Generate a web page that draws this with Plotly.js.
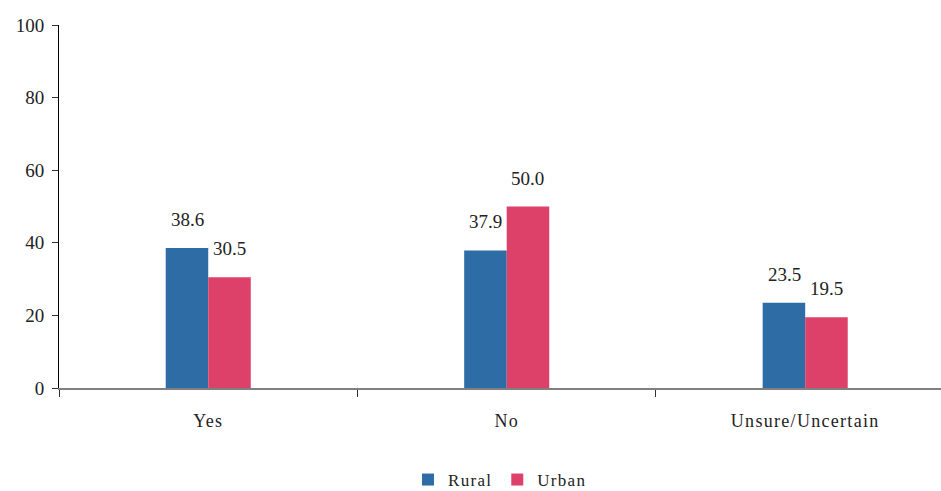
<!DOCTYPE html>
<html>
<head>
<meta charset="utf-8">
<script src="https://cdn.plot.ly/plotly-3.0.1.min.js"></script>
<style>
  html, body { margin: 0; padding: 0; background: #fff; overflow: hidden; }
  #chart { width: 941px; height: 510px; }
  .legendtext, .xtick text { letter-spacing: 1.3px; }
</style>
</head>
<body>
<div id="chart"></div>
<script>
const categories = ["Yes", "No", "Unsure/Uncertain"];
const seriesNames = ["Rural", "Urban"];
const ruralValues = [38.6, 37.9, 23.5];
const urbanValues = [30.5, 50.0, 19.5];
const yTickVals = [0, 20, 40, 60, 80, 100];

const colors = ["#2E6CA5", "#DD4169"];
const fontFam = "'Liberation Serif', serif";

const traces = [
  { type: "bar", name: seriesNames[0], x: categories, y: ruralValues, marker: { color: colors[0] }, hoverinfo: "none" },
  { type: "bar", name: seriesNames[1], x: categories, y: urbanValues, marker: { color: colors[1] }, hoverinfo: "none" }
];

const annotations = [];
[ruralValues, urbanValues].forEach((vals, si) => {
  vals.forEach((v, i) => {
    annotations.push({
      x: categories[i], y: v, xref: "x", yref: "y",
      text: v.toFixed(1), showarrow: false,
      xanchor: "center", yanchor: "bottom",
      xshift: si === 0 ? -21 : 21, yshift: 16,
      font: { family: fontFam, size: 19, color: "#222" }
    });
  });
});

const layout = {
  width: 941, height: 510,
  margin: { l: 59, r: 0, t: 25, b: 122 },
  paper_bgcolor: "#fff", plot_bgcolor: "#fff",
  barmode: "group", bargap: 0.715, bargroupgap: 0,
  font: { family: fontFam, size: 18, color: "#222" },
  xaxis: {
    type: "category", range: [-0.5, 2.455],
    showline: true, linecolor: "#808080", linewidth: 2,
    ticks: "outside", tickson: "boundaries", ticklen: 7, tickcolor: "#333", tickwidth: 1,
    ticklabelstandoff: 15,
    showgrid: false, zeroline: false,
    tickfont: { family: fontFam, size: 18, color: "#222" }
  },
  yaxis: {
    range: [0, 100], tickvals: yTickVals,
    showline: true, linecolor: "#000", linewidth: 1,
    ticks: "outside", ticklen: 6, tickcolor: "#333",
    ticklabelstandoff: 4,
    showgrid: false, zeroline: false,
    tickfont: { family: fontFam, size: 19, color: "#222" }
  },
  showlegend: true,
  legend: {
    orientation: "h", x: 0.5, xanchor: "center", y: -0.303, yanchor: "bottom",
    font: { family: fontFam, size: 17, color: "#222" },
    itemwidth: 30, traceorder: "normal"
  },
  annotations: annotations
};

Plotly.newPlot("chart", traces, layout, { displayModeBar: false, staticPlot: true });
</script>
</body>
</html>
